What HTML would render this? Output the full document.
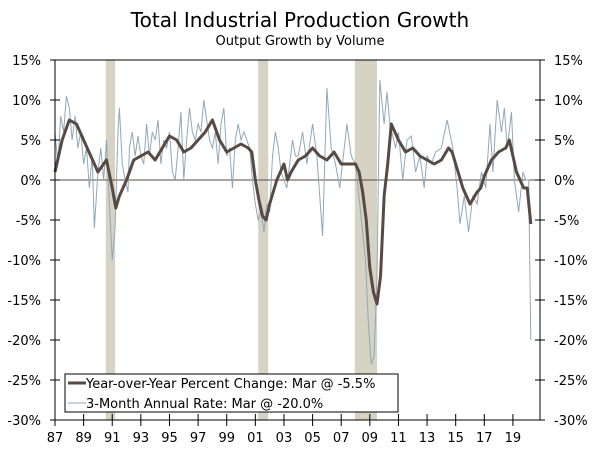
<!DOCTYPE html>
<html><head><meta charset="utf-8"><style>
body{margin:0;background:#fff;width:600px;height:449px;overflow:hidden}
svg{display:block;font-family:"DejaVu Sans","Liberation Sans",sans-serif}
</style></head><body>
<svg id="chart" width="600" height="449">
<text x="300" y="27" text-anchor="middle" font-size="20" fill="#000">Total Industrial Production Growth</text>
<text x="300" y="45" text-anchor="middle" font-size="13" fill="#000">Output Growth by Volume</text>
<g id="rec"></g><g id="grid"></g><g id="series"></g><g id="axes"></g>
<g>
<rect x="65" y="374" width="333" height="38" fill="#fff" stroke="#000" stroke-width="1"/>
<line x1="68" y1="383" x2="86" y2="383" stroke="#574a42" stroke-width="3"/>
<text x="86" y="388" font-size="13">Year-over-Year Percent Change: Mar @ -5.5%</text>
<line x1="68" y1="403" x2="86" y2="403" stroke="#8fa8b8" stroke-width="1"/>
<text x="86" y="408" font-size="13">3-Month Annual Rate: Mar @ -20.0%</text>
</g>
</svg>
<script>
const yoyDates=[1987.0,1987.5,1988.0,1988.5,1989.0,1989.5,1990.0,1990.4,1990.6,1991.0,1991.25,1991.5,1992.0,1992.5,1993.0,1993.5,1994.0,1994.5,1995.0,1995.5,1996.0,1996.5,1997.0,1997.5,1998.0,1998.5,1999.0,1999.5,2000.0,2000.5,2000.75,2001.0,2001.25,2001.5,2001.75,2002.0,2002.5,2002.75,2003.0,2003.25,2003.5,2004.0,2004.5,2005.0,2005.5,2006.0,2006.5,2007.0,2007.5,2008.0,2008.25,2008.5,2008.75,2009.0,2009.25,2009.5,2009.75,2010.0,2010.25,2010.5,2010.75,2011.0,2011.5,2012.0,2012.5,2013.0,2013.5,2014.0,2014.5,2014.75,2015.0,2015.5,2015.75,2016.0,2016.5,2016.75,2017.0,2017.5,2018.0,2018.5,2018.75,2019.0,2019.25,2019.5,2019.75,2020.0,2020.25];
const yoyValues=[1,5,7.5,7,5,3,1,2,2.5,-1,-3.5,-2,0,2.5,3,3.5,2.5,4,5.5,5,3.5,4,5,6,7.5,5,3.5,4,4.5,4,3.5,0,-2.5,-4.5,-5,-3,0,1,2,0,1,2.5,3,4,3,2.5,3.5,2,2,2,1,-1.5,-5,-11,-14,-15.5,-12,-2,2,7,6,5,3.5,4,3,2.5,2,2.5,4,3.5,2,-1,-2,-3,-1.5,-1,0.5,2.5,3.5,4,5,3,1,0,-1,-1,-5.5];
const rateDates=[1987.0,1987.2,1987.4,1987.6,1987.8,1988.0,1988.2,1988.4,1988.6,1988.8,1989.0,1989.2,1989.4,1989.6,1989.75,1990.0,1990.2,1990.4,1990.6,1990.8,1991.0,1991.2,1991.4,1991.5,1991.7,1991.9,1992.1,1992.2,1992.4,1992.6,1992.8,1993.0,1993.2,1993.4,1993.6,1993.8,1994.0,1994.2,1994.4,1994.6,1994.8,1995.0,1995.2,1995.4,1995.6,1995.8,1996.0,1996.2,1996.4,1996.6,1996.8,1997.0,1997.2,1997.4,1997.6,1997.8,1998.0,1998.2,1998.4,1998.6,1998.8,1999.0,1999.2,1999.4,1999.6,1999.8,2000.0,2000.2,2000.4,2000.6,2000.8,2001.0,2001.2,2001.4,2001.6,2001.8,2002.0,2002.2,2002.4,2002.6,2002.8,2003.0,2003.2,2003.4,2003.6,2003.8,2004.0,2004.3,2004.6,2005.0,2005.3,2005.7,2006.0,2006.3,2006.6,2006.9,2007.4,2007.7,2008.0,2008.3,2008.7,2008.9,2009.1,2009.3,2009.5,2009.7,2010.0,2010.2,2010.4,2010.8,2011.0,2011.3,2011.6,2011.9,2012.2,2012.5,2012.8,2013.0,2013.3,2013.6,2014.0,2014.4,2014.8,2015.1,2015.3,2015.6,2015.9,2016.2,2016.5,2016.8,2017.1,2017.4,2017.6,2017.9,2018.2,2018.4,2018.6,2018.9,2019.1,2019.4,2019.7,2019.9,2020.1,2020.25];
const rateValues=[6,2,8,6,10.5,9,5,8,4,6,2,4,-1,3,-6,1,4,0,5,-3,-10,-6,6,9,2,0,-1.5,4,6,3,5.5,3,2,7,3,6,5,7.5,2,5,4,6,1,0,4,8.5,0,5,9,6,5,7,6,10,7.5,5,4,6,2,7,9,3,4,-1,5,7,5,6,5,4,0,-3,-5,-4,-6.5,-3,-4,3,6,4,1,0,-1,2,5,3,3,6,2,7,3,-7,11.5,4,2,-1,7,3,2,-3,-10,-18,-23,-22,-12,12.5,7,11,7,4,6,0,5,5.5,1,3,-1,3,2,3.5,4,7.5,4,-1,-5.5,-2,-6.5,-2,-3,1,-1,7,1,10,6,9,4,8.5,0,-4,1,0,0,-20];
const yTicks=[15,10,5,0,-5,-10,-15,-20,-25,-30];
const xTickLabels=["87","89","91","93","95","97","99","01","03","05","07","09","11","13","15","17","19"];
const recessions=[[1990.55,1991.2],[2001.2,2001.9],[2007.95,2009.5]];
const NS='http://www.w3.org/2000/svg';
const L=55,R=540,T=60,B=420;
const xs=y=>L+(y-1987)*14.31;
const ys=v=>T+(15-v)*(B-T)/45;
function mk(tag,attrs,parent,txt){const e=document.createElementNS(NS,tag);for(const k in attrs)e.setAttribute(k,attrs[k]);if(txt!==undefined)e.textContent=txt;document.getElementById(parent).appendChild(e);return e;}
recessions.forEach(r=>{const e=mk('rect',{x:xs(r[0]),y:T,width:xs(r[1])-xs(r[0]),height:B-T,fill:'#d6d2c4'},'rec');

});
const z=mk('line',{x1:L,x2:R,y1:ys(0),y2:ys(0),stroke:'#574a42','stroke-width':1},'grid');


const p2=mk('polyline',{points:rateDates.map((d,i)=>xs(d)+','+ys(rateValues[i])).join(' '),fill:'none',stroke:'#8fa8b8','stroke-width':1},'series');


const p1=mk('polyline',{points:yoyDates.map((d,i)=>xs(d)+','+ys(yoyValues[i])).join(' '),fill:'none',stroke:'#574a42','stroke-width':3,'stroke-linejoin':'round'},'series');


mk('rect',{x:L,y:T,width:R-L,height:B-T,fill:'none',stroke:'#000','stroke-width':1},'axes');
yTicks.forEach(v=>{const y=ys(v);
mk('line',{x1:L-5,x2:L+5,y1:y,y2:y,stroke:'#000'},'axes');
mk('line',{x1:R-5,x2:R+5,y1:y,y2:y,stroke:'#000'},'axes');
const a=mk('text',{x:L-14,y:y+5,'text-anchor':'end','font-size':13},'axes',v+'%');


const b=mk('text',{x:R+14,y:y+5,'font-size':13},'axes',v+'%');

});
xTickLabels.forEach((t,i)=>{const x=xs(1987+2*i);
mk('line',{x1:x,x2:x,y1:B-6,y2:B+6,stroke:'#000'},'axes');
const e=mk('text',{x:x,y:B+22,'text-anchor':'middle','font-size':13},'axes',t);

});
</script>
</body></html>
